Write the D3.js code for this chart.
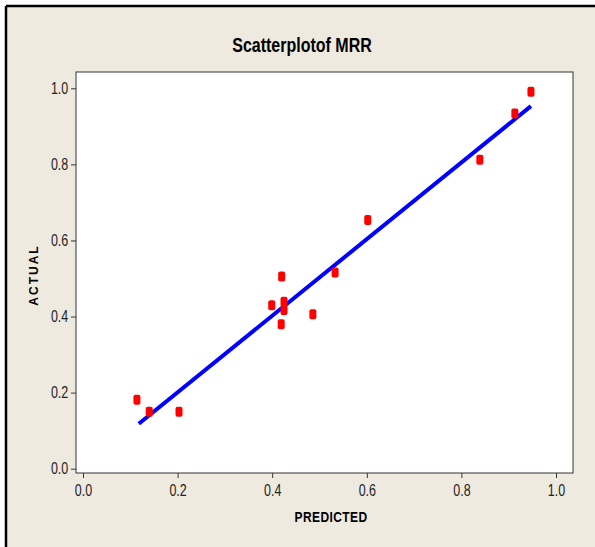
<!DOCTYPE html>
<html>
<head>
<meta charset="utf-8">
<script src="https://cdn.jsdelivr.net/npm/d3@7"></script>
<style>
  body { margin: 0; background: #fff; }
  text { font-family: "Liberation Sans", Arial, sans-serif; }
</style>
</head>
<body>
<div id="chart"></div>
<script>
// data
var predicted = [0.114, 0.140, 0.203, 0.399, 0.420, 0.425, 0.425, 0.419, 0.486, 0.533, 0.602, 0.839, 0.913, 0.947];
var actual    = [0.181, 0.150, 0.150, 0.430, 0.505, 0.439, 0.417, 0.380, 0.406, 0.516, 0.654, 0.812, 0.934, 0.991];
var fitX = [0.118, 0.947];
var fitY = [0.118, 0.953];
var tickVals = [0, 0.2, 0.4, 0.6, 0.8, 1.0];

var W = 595, H = 547;
var box = { left: 76, right: 573, top: 72, bottom: 473 };
var narrow = "scale(0.78,1)";

var svg = d3.select("#chart").append("svg")
    .attr("width", W)
    .attr("height", H);

// page background and frame
svg.append("rect")
    .attr("x", 6).attr("y", 6)
    .attr("width", W - 6).attr("height", H - 6)
    .attr("fill", "#eeeae0");
svg.append("line").attr("x1", 6).attr("x2", W).attr("y1", 6).attr("y2", 6)
    .attr("stroke", "#000").attr("stroke-width", 2.5);
svg.append("line").attr("x1", 6).attr("x2", 6).attr("y1", 6).attr("y2", H)
    .attr("stroke", "#000").attr("stroke-width", 2.5);

// plot box
svg.append("rect")
    .attr("x", box.left).attr("y", box.top)
    .attr("width", box.right - box.left).attr("height", box.bottom - box.top)
    .attr("fill", "#fff")
    .attr("stroke", "#333").attr("stroke-width", 1);

var x = d3.scaleLinear().domain([0, 1]).range([83, 556]);
var y = d3.scaleLinear().domain([0, 1]).range([468.7, 88.3]);

// X axis
var gx = svg.append("g")
    .attr("transform", "translate(0," + box.bottom + ")")
    .call(d3.axisBottom(x).tickValues(tickVals).tickFormat(d3.format(".1f")).tickSize(5).tickSizeOuter(0));
gx.select(".domain").remove();
gx.selectAll("text")
    .attr("font-size", 16).attr("fill", "#222").attr("dy", "0.95em")
    .attr("transform", narrow);
gx.selectAll("line").attr("stroke", "#333");

// Y axis
var gy = svg.append("g")
    .attr("transform", "translate(" + box.left + ",0)")
    .call(d3.axisLeft(y).tickValues(tickVals).tickFormat(d3.format(".1f")).tickSize(5).tickSizeOuter(0));
gy.select(".domain").remove();
gy.selectAll("text")
    .attr("font-size", 16).attr("fill", "#222").attr("x", -10)
    .attr("transform", narrow);
gy.selectAll("line").attr("stroke", "#333");

// title and axis titles
svg.append("g").attr("transform", "translate(302,52)")
  .append("text")
    .attr("transform", "scale(0.8,1)")
    .attr("text-anchor", "middle")
    .attr("font-size", 20).attr("font-weight", "bold")
    .text("Scatterplotof MRR");

svg.append("g").attr("transform", "translate(331,522)")
  .append("text")
    .attr("transform", "scale(0.8,1)")
    .attr("text-anchor", "middle")
    .attr("font-size", 15).attr("font-weight", "bold")
    .attr("letter-spacing", 0.5)
    .text("PREDICTED");

svg.append("text")
    .attr("transform", "translate(38,275)rotate(-90)")
    .attr("text-anchor", "middle")
    .attr("font-size", 12).attr("font-weight", "bold")
    .attr("letter-spacing", 2)
    .text("ACTUAL");

// fitted line
svg.append("line")
    .attr("x1", x(fitX[0])).attr("y1", y(fitY[0]))
    .attr("x2", x(fitX[1])).attr("y2", y(fitY[1]))
    .attr("stroke", "#0000ff").attr("stroke-width", 4);

// points
svg.selectAll("rect.pt")
  .data(d3.range(predicted.length))
  .enter()
  .append("rect")
    .attr("class", "pt")
    .attr("x", function(i) { return x(predicted[i]) - 3.5; })
    .attr("y", function(i) { return y(actual[i]) - 5; })
    .attr("width", 7)
    .attr("height", 10)
    .attr("rx", 2)
    .attr("fill", "#ff0000");
</script>
</body>
</html>
